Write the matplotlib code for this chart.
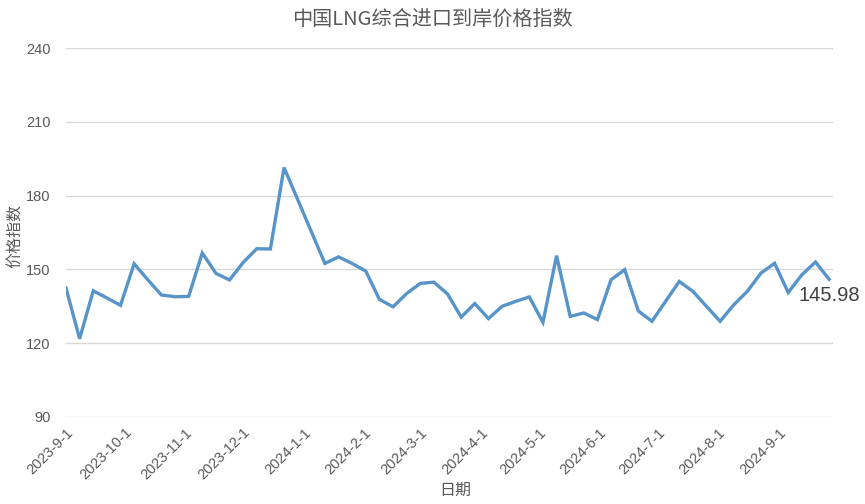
import matplotlib
matplotlib.use("Agg")
import matplotlib.pyplot as plt
import pandas as pd

plt.rcParams['font.family'] = ['Liberation Sans', 'Noto Sans CJK SC', 'DejaVu Sans']

# weekly index values
dates = pd.date_range('2023-09-01', periods=57, freq='7D')
values = [142.4, 121.8, 141.3, 138.4, 135.4, 152.3, 145.8, 139.6, 138.9, 139.0,
          156.7, 148.4, 145.7, 152.8, 158.4, 158.3, 191.4, 178.4, 165.4, 152.4,
          155.1, 152.4, 149.3, 137.8, 134.8, 140.2, 144.3, 144.8, 140.0, 130.6,
          136.1, 130.0, 135.0, 137.0, 138.8, 128.5, 155.6, 130.9, 132.3, 129.6,
          145.8, 149.9, 133.1, 128.9, 137.0, 145.1, 141.1, 135.0, 128.9, 135.6,
          141.1, 148.5, 152.5, 140.6, 147.8, 153.0, 145.98]
month_ticks = pd.date_range('2023-09-01', '2024-09-01', freq='MS')
tick_labels = [f"{d.year}-{d.month}-{d.day}" for d in month_ticks]
y_ticks = [90, 120, 150, 180, 210, 240]

title = '中国LNG综合进口到岸价格指数'
grey = '#595959'
cjk = ['Noto Sans CJK SC', 'DejaVu Sans']

fig = plt.figure(figsize=(8.65, 5.04), dpi=100)
ax = fig.add_axes([66/865, 1-417/504, (833-66)/865, (417-48)/504])

ax.plot(dates, values, color='#5794c9', linewidth=2.4, solid_joinstyle='miter')

ax.set_ylim(90, 240)
ax.set_yticks(y_ticks)
ax.set_xlim(dates[0], dates[-1] + pd.Timedelta(days=2))
ax.set_xticks(month_ticks)
ax.set_xticklabels(tick_labels, rotation=45, ha='right', rotation_mode='anchor')

ax.grid(axis='y', color='#d9d9d9', linewidth=1)
ax.set_axisbelow(True)
for s in ax.spines.values():
    s.set_visible(False)
ax.tick_params(axis='both', length=0, colors=grey, labelsize=10.5)
ax.tick_params(axis='y', pad=11)
ax.tick_params(axis='x', pad=6)

# last value label
ax.annotate(f"{values[-1]:.2f}", xy=(dates[-1], values[-1]), xytext=(0, -5),
            textcoords='offset points', ha='center', va='top',
            fontsize=14.5, color='#404040')

fig.text(0.5, 1-19/504, title, ha='center', va='center', fontsize=14.5,
         color=grey, family=cjk)
fig.text(15/865, 1-236/504, '价格指数', rotation=90, ha='center', va='center',
         fontsize=11.5, color=grey, family=cjk)
fig.text(455/865, 1-490/504, '日期', ha='center', va='center',
         fontsize=11.5, color=grey, family=cjk)

fig.savefig('out.png', dpi=100)
